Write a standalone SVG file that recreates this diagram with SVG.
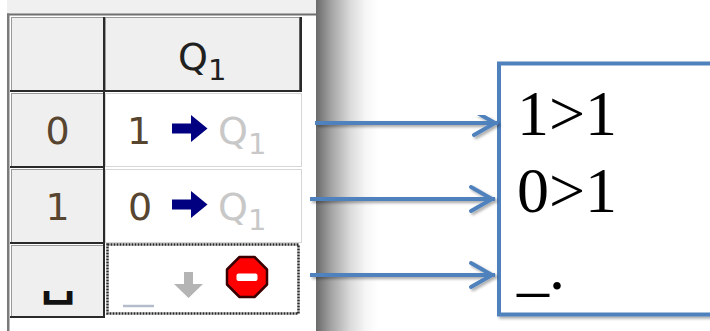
<svg xmlns="http://www.w3.org/2000/svg" width="710" height="331" viewBox="0 0 710 331">
<defs>
<style>
.hdr{fill:#efefef;stroke:#9a9a9a;stroke-width:1}
.cell{fill:#ffffff;stroke:#d6d6d6;stroke-width:1}
.dk{fill:#2a2a2a}
.sym{font-family:"DejaVu Sans",Verdana,sans-serif;font-size:38px}
.sub{font-family:"DejaVu Sans",Verdana,sans-serif;font-size:29px}
.dig{fill:#574530}
.ghost{fill:#c8c8c8}
.big{font-family:"Liberation Serif","Times New Roman",serif;font-size:64px;fill:#000}
.conn{stroke:#4f81bd;stroke-width:4;fill:none}
</style>
<linearGradient id="shade" x1="0" y1="0" x2="1" y2="0">
<stop offset="0" stop-color="#6a6a6a"/>
<stop offset="0.25" stop-color="#a4a4a4"/>
<stop offset="0.55" stop-color="#dadada"/>
<stop offset="0.8" stop-color="#f6f6f6"/>
<stop offset="1" stop-color="#ffffff"/>
</linearGradient>
<filter id="ds" x="-5%" y="-5%" width="115%" height="120%">
<feGaussianBlur in="SourceAlpha" stdDeviation="1.5"/>
<feOffset dx="1.5" dy="2" result="b"/>
<feComponentTransfer><feFuncA type="linear" slope="0.35"/></feComponentTransfer>
<feMerge><feMergeNode/><feMergeNode in="SourceGraphic"/></feMerge>
</filter>
<marker id="ah" markerUnits="userSpaceOnUse" viewBox="-28 -16 32 32" refX="0" refY="0" markerWidth="32" markerHeight="32" orient="auto" overflow="visible">
<path d="M-24,-12 L-3,0 L-24,12" fill="none" stroke="#4f81bd" stroke-width="4" stroke-linecap="round"/>
</marker>
</defs>
<rect width="710" height="331" fill="#ffffff"/>

<g id="table">
<rect x="7" y="0" width="309" height="14" fill="#f0f0f0"/>
<rect x="7" y="13.5" width="309" height="2" fill="#6e6e6e"/>
<rect x="7" y="13.5" width="2.5" height="318" fill="#7a7a7a"/>
<rect x="316" y="0" width="62" height="331" fill="url(#shade)"/>

<g id="hdr-left"><rect class="hdr" x="11.5" y="17.5" width="92" height="73"/></g>
<g id="hdr-q1">
<rect class="hdr" x="105.5" y="17.5" width="194" height="73"/>
<text class="sym" x="178" y="70" fill="#202020">Q<tspan class="sub" dy="10">1</tspan></text>
</g>

<g id="row0-left">
<rect class="hdr" x="11.5" y="93.5" width="92" height="73"/>
<text class="sym dig" x="57.5" y="144" text-anchor="middle">0</text>
</g>
<g id="row0-right">
<rect class="cell" x="105.5" y="93.5" width="196" height="73"/>
<text class="sym dig" x="139" y="144" text-anchor="middle">1</text>
<polygon points="172,123.5 191,123.5 191,115 207.5,128.5 191,142 191,133.5 172,133.5" fill="#000080"/>
<text class="sym ghost" x="218" y="144">Q<tspan class="sub" dy="10">1</tspan></text>
</g>

<g id="row1-left">
<rect class="hdr" x="11.5" y="169.5" width="92" height="73"/>
<text class="sym dig" x="57.5" y="220" text-anchor="middle">1</text>
</g>
<g id="row1-right">
<rect class="cell" x="105.5" y="169.5" width="196" height="73"/>
<text class="sym dig" x="140" y="220" text-anchor="middle">0</text>
<polygon points="172,199.5 191,199.5 191,191 207.5,204.5 191,218 191,209.5 172,209.5" fill="#000080"/>
<text class="sym ghost" x="218" y="220">Q<tspan class="sub" dy="10">1</tspan></text>
</g>

<g id="row2-left">
<rect class="hdr" x="11.5" y="245.5" width="92" height="71"/>
<text x="58" y="295" text-anchor="middle" font-family="DejaVu Sans,sans-serif" font-weight="bold" font-size="52" fill="#111" transform="translate(58 295) scale(0.95 0.8) translate(-58 -295)">␣</text>
</g>
<g id="row2-right">
<rect x="107.5" y="244.5" width="191" height="69" fill="#ffffff" stroke="#2a2a2a" stroke-width="2.5" stroke-dasharray="2 1"/>
<line x1="123" y1="306" x2="154" y2="306" stroke="#b4bccb" stroke-width="2.5"/>
<polygon points="184,272 193,272 193,284 203,284 188.5,298 174,284 184,284" fill="#b4b4b4"/>
<polygon points="239.5,257 254.5,257 267,269.5 267,284.5 254.5,297 239.5,297 227,284.5 227,269.5" fill="#ff0000" stroke="#3a0000" stroke-width="2.5" stroke-linejoin="round"/>
<rect x="236.5" y="273.5" width="21" height="7.5" rx="2" fill="#ffffff"/>
</g>

<rect class="dk" x="10" y="90" width="292" height="2"/>
<rect class="dk" x="299.5" y="17" width="2.5" height="75"/>
<rect class="dk" x="103" y="17" width="2" height="301"/>
<rect class="dk" x="10" y="166" width="95" height="2"/>
<rect class="dk" x="10" y="242" width="95" height="2"/>
<rect class="dk" x="10" y="316" width="95" height="2"/>
</g>

<g id="output-box" filter="url(#ds)">
<rect x="499" y="63.5" width="230" height="251" fill="#ffffff" stroke="#4f81bd" stroke-width="4"/>
</g>
<g id="output-text">
<text class="big" x="517" y="135">1&gt;1</text>
<text class="big" x="517" y="212">0&gt;1</text>
<text class="big" x="517" y="289">_.</text>
</g>

<g id="connectors" filter="url(#ds)">
<line class="conn" x1="315" y1="123" x2="498" y2="123" marker-end="url(#ah)"/>
<line class="conn" x1="310" y1="199" x2="495" y2="199" marker-end="url(#ah)"/>
<line class="conn" x1="310" y1="275" x2="495" y2="275" marker-end="url(#ah)"/>
</g>
</svg>
